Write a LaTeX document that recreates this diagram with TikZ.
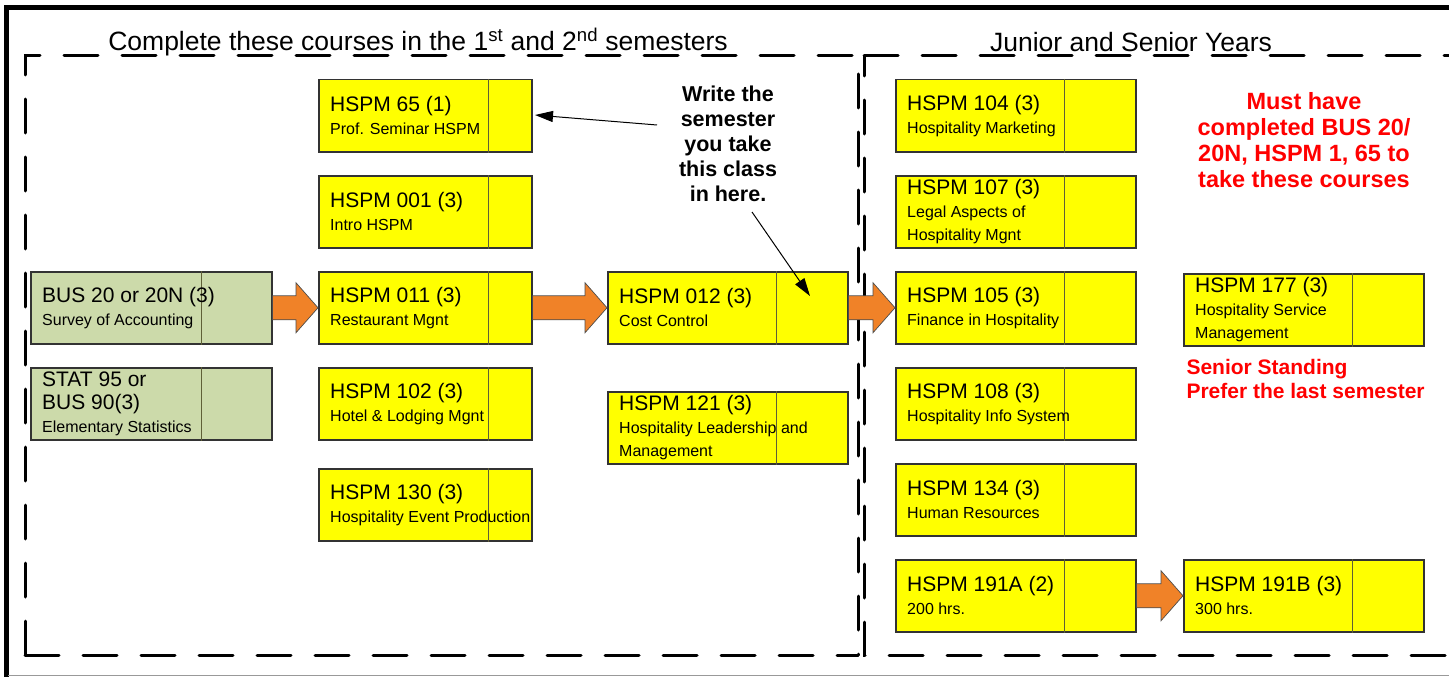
\documentclass[tikz,border=0pt]{standalone}
\usepackage{fontspec}
\setmainfont{Liberation Sans}
\usetikzlibrary{arrows.meta}
\usetikzlibrary{positioning}
\usetikzlibrary{calc}

\definecolor{boxyellow}{RGB}{255,255,0}
\definecolor{boxgreen}{RGB}{204,218,170}
\definecolor{checkolive}{RGB}{95,95,55}
\definecolor{arroworange}{RGB}{240,130,40}
\definecolor{notered}{RGB}{255,0,0}

\newcommand{\crstitle}{\fontsize{21}{25}\selectfont}
\newcommand{\crssub}{\fontsize{16}{23}\selectfont}

\tikzset{
  coursebox/.style={draw=black!80, line width=1.5pt, minimum height=72pt, inner sep=0pt, anchor=north west},
  checkline/.style={draw=checkolive, line width=1.5pt},
  coursetext/.style={anchor=west, align=left, inner sep=0pt, font=\crssub},
  regionline/.style={line width=3pt, line cap=round, dash pattern=on 34pt off 24pt},
  blockarrow/.style={fill=arroworange, draw=black!70, line width=0.7pt},
  notearrow/.style={-{Triangle[length=18pt,width=11pt]}, line width=1pt},
  titletext/.style={font=\fontsize{26.5}{30}\selectfont},
  redtext/.style={text=notered, font=\bfseries\fontsize{21}{24}\selectfont}
}

% box with check cell
\newcommand{\course}[7]{%
  \node[coursebox, fill=#5, minimum width=#4pt] (#1) at (#2,#3) {};
  \draw[checkline] ([xshift=-#6pt]#1.north east) -- ([xshift=-#6pt]#1.south east);
  \node[coursetext] (#1-txt) at ([xshift=12pt]#1.west) {#7};
}
% orange arrow between two boxes
\newcommand{\blockarrow}[2]{%
  \draw[blockarrow] let \p1=(#1.east), \p2=(#2.west) in
    (\x1,\y1+12pt) -- (\x2-22pt,\y1+12pt) -- (\x2-22pt,\y1+25pt) -- (\x2,\y1)
    -- (\x2-22pt,\y1-25pt) -- (\x2-22pt,\y1-12pt) -- (\x1,\y1-12pt) -- cycle;
}

\begin{document}
\begin{tikzpicture}[x=1pt,y=-1pt]
\useasboundingbox (0,0) rectangle (1449,677);
\fill[white] (0,0) rectangle (1449,677);

% frame
\draw[line width=5pt] (6,677) -- (6,8) -- (1449,8);
\draw[black!40, line width=1.5pt] (8,675.5) -- (1449,675.5);

% regions
\draw[regionline] (25,655) -- (25,56) -- (858,56) -- (858,655);
\draw[regionline] (25,655) -- (858,655);
\draw[regionline] (864,56) -- (1449,56);
\draw[regionline, dash phase=14pt] (864,56) -- (864,655) -- (1449,655);
\node[titletext] (lefttitle) at (418,42) {Complete these courses in the 1\textsuperscript{st} and 2\textsuperscript{nd} semesters};
\node[titletext] (righttitle) at (1131,42) {Junior and Senior Years};

% first and second semesters
\course{bus20}{30}{271}{241}{boxgreen}{71}{\crstitle BUS 20 or 20N (3)\\\crssub Survey of Accounting}
\course{stat95}{30}{367}{241}{boxgreen}{71}{\crstitle STAT 95 or\\\crstitle BUS 90(3)\\\crssub Elementary Statistics}
\course{h65}{318}{79}{213}{boxyellow}{44}{\crstitle HSPM 65 (1)\\\crssub Prof. Seminar HSPM}
\course{h001}{318}{175}{213}{boxyellow}{44}{\crstitle HSPM 001 (3)\\\crssub Intro HSPM}
\course{h011}{318}{271}{213}{boxyellow}{44}{\crstitle HSPM 011 (3)\\\crssub Restaurant Mgnt}
\course{h102}{318}{367}{213}{boxyellow}{44}{\crstitle HSPM 102 (3)\\\crssub Hotel \& Lodging Mgnt}
\course{h130}{318}{468}{213}{boxyellow}{44}{\crstitle HSPM 130 (3)\\\crssub Hospitality Event Production}
\course{h012}{607}{271}{240}{boxyellow}{72}{\crstitle HSPM 012 (3)\\\crssub Cost Control}
\course{h121}{607}{391}{240}{boxyellow}{72}{\crstitle HSPM 121 (3)\\\crssub Hospitality Leadership and\\Management}

% junior and senior years
\course{h104}{895}{79}{240}{boxyellow}{72}{\crstitle HSPM 104 (3)\\\crssub Hospitality Marketing}
\course{h107}{895}{175}{240}{boxyellow}{72}{\crstitle HSPM 107 (3)\\\crssub Legal Aspects of\\Hospitality Mgnt}
\course{h105}{895}{271}{240}{boxyellow}{72}{\crstitle HSPM 105 (3)\\\crssub Finance in Hospitality}
\course{h108}{895}{367}{240}{boxyellow}{72}{\crstitle HSPM 108 (3)\\\crssub Hospitality Info System}
\course{h134}{895}{463}{240}{boxyellow}{72}{\crstitle HSPM 134 (3)\\\crssub Human Resources}
\course{h191a}{895}{559}{240}{boxyellow}{72}{\crstitle HSPM 191A (2)\\\crssub 200 hrs.}
\course{h177}{1183}{273}{240}{boxyellow}{72}{\crstitle HSPM 177 (3)\\\crssub Hospitality Service\\Management}
\course{h191b}{1183}{559}{240}{boxyellow}{72}{\crstitle HSPM 191B (3)\\\crssub 300 hrs.}

% orange arrows
\blockarrow{bus20}{h011}
\blockarrow{h011}{h012}
\blockarrow{h012}{h105}
\blockarrow{h191a}{h191b}

% notes
\node[font=\bfseries\fontsize{21.5}{25}\selectfont, align=center] (note) at (728,144)
  {Write the\\semester\\you take\\this class\\in here.};
\coordinate (from65) at (657,125);
\coordinate (to65) at (535,115);
\coordinate (from012) at (752,212);
\coordinate (to012) at (810,296);
\draw[notearrow] (from65) -- (to65);
\draw[notearrow] (from012) -- (to012);

\node[redtext, align=center, font=\bfseries\fontsize{23.5}{26}\selectfont] (prereq) at (1304,140)
  {Must have\\completed BUS 20/\\20N, HSPM 1, 65 to\\take these courses};
\node[redtext, align=left, anchor=west] (senior) at (1183,379)
  {Senior Standing\\Prefer the last semester};
\end{tikzpicture}
\end{document}
